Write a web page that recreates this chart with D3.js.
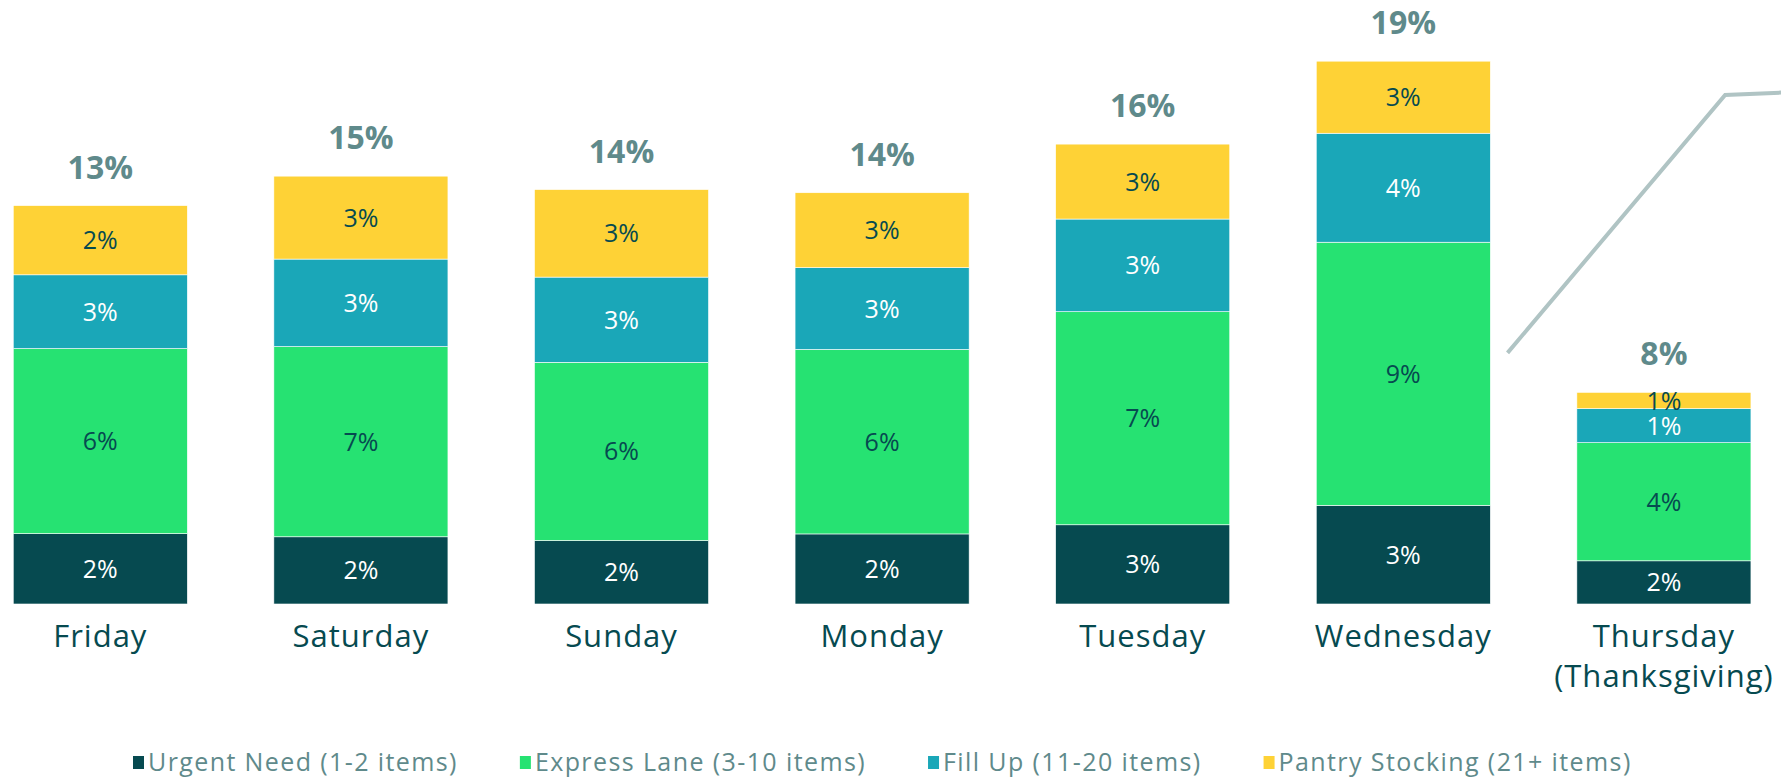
<!DOCTYPE html>
<html>
<head>
<meta charset="utf-8">
<script src="https://cdn.jsdelivr.net/npm/d3@7"></script>
<style>
  body { margin: 0; background: #fff; }
  svg { display: block; }
</style>
</head>
<body>
<div id="chart"></div>
<script>
// Data (share of trips, %)
const days = ["Friday", "Saturday", "Sunday", "Monday", "Tuesday", "Wednesday", "Thursday"];
const dayLines = [["Friday"], ["Saturday"], ["Sunday"], ["Monday"], ["Tuesday"], ["Wednesday"], ["Thursday", "(Thanksgiving)"]];
const seriesNames = ["Urgent Need (1-2 items)", "Express Lane (3-10 items)", "Fill Up (11-20 items)", "Pantry Stocking (21+ items)"];
const urgent  = [2.46, 2.35, 2.22, 2.45, 2.77, 3.45, 1.51];
const express = [6.47, 6.65, 6.23, 6.45, 7.45, 9.20, 4.13];
const fillUp  = [2.58, 3.06, 2.98, 2.86, 3.24, 3.81, 1.19];
const pantry  = [2.42, 2.90, 3.06, 2.62, 2.62, 2.52, 0.57];
const totalLabels = ["13%", "15%", "14%", "14%", "16%", "19%", "8%"];
// callout line in (category index, value) units
const callout = [[5.4, 8.78], [6.235, 17.8], [6.5, 17.9]];

const width = 1781, height = 783;
const colors = ["#064a50", "#26e272", "#1aa7b8", "#fed236"];
const labelColors = ["#ffffff", "#064a50", "#ffffff", "#064a50"];
const font = "'Open Sans', sans-serif";

const svg = d3.select("#chart").append("svg")
    .attr("width", width)
    .attr("height", height)
    .style("font-family", font);

const x = d3.scaleBand()
    .domain(days)
    .range([-30, 1794.2])
    .paddingInner(0.332)
    .paddingOuter(0.166);

const y = d3.scaleLinear()
    .domain([0, 20])
    .range([604, 32]);

const xIdx = d3.scaleLinear()
    .domain([0, 1])
    .range([x(days[0]) + x.bandwidth() / 2, x(days[1]) + x.bandwidth() / 2]);

// Build table for stacking
const table = days.map((d, i) => ({
    day: d, i,
    s0: urgent[i], s1: express[i], s2: fillUp[i], s3: pantry[i]
}));
const stack = d3.stack().keys(["s0", "s1", "s2", "s3"]);
const layers = stack(table);

const g = svg.append("g");

layers.forEach((layer, k) => {
    const lg = g.append("g");
    lg.selectAll("rect")
        .data(layer)
        .enter()
        .append("rect")
        .attr("x", d => x(d.data.day))
        .attr("y", d => y(d[1]))
        .attr("width", x.bandwidth())
        .attr("height", d => y(d[0]) - y(d[1]))
        .attr("fill", colors[k])
        .attr("stroke", "#ffffff")
        .attr("stroke-width", 0.6);

    lg.selectAll("text")
        .data(layer)
        .enter()
        .append("text")
        .attr("x", d => x(d.data.day) + x.bandwidth() / 2)
        .attr("y", d => (y(d[0]) + y(d[1])) / 2)
        .attr("dy", "0.36em")
        .attr("text-anchor", "middle")
        .style("font-size", "25px")
        .style("fill", labelColors[k])
        .text(d => Math.round(d[1] - d[0]) + "%");
});

// Totals above bars
g.selectAll(".total")
    .data(table)
    .enter()
    .append("text")
    .attr("class", "total")
    .attr("x", d => x(d.day) + x.bandwidth() / 2)
    .attr("y", d => y(d.s0 + d.s1 + d.s2 + d.s3) - 27)
    .attr("text-anchor", "middle")
    .style("font-size", "32px")
    .style("font-weight", "bold")
    .style("fill", "#5f8a8b")
    .text((d, i) => totalLabels[i]);

// Category labels
const cat = g.selectAll(".cat")
    .data(days)
    .enter()
    .append("text")
    .attr("class", "cat")
    .attr("x", d => x(d) + x.bandwidth() / 2)
    .attr("y", 647)
    .attr("text-anchor", "middle")
    .style("font-size", "31px")
    .style("letter-spacing", "1px")
    .style("fill", "#064a50");
cat.selectAll("tspan")
    .data((d, i) => dayLines[i])
    .enter()
    .append("tspan")
    .attr("x", function () { return d3.select(this.parentNode).attr("x"); })
    .attr("dy", (d, j) => j === 0 ? 0 : 40)
    .text(d => d);

// Callout line
svg.append("path")
    .datum(callout)
    .attr("d", d3.line().x(d => xIdx(d[0])).y(d => y(d[1])))
    .attr("fill", "none")
    .attr("stroke", "#b0c4c4")
    .attr("stroke-width", 4);

// Legend
const legend = svg.append("g").attr("transform", "translate(133,0)");
let lx = 0;
seriesNames.forEach((name, k) => {
    const item = legend.append("g").attr("transform", `translate(${lx},0)`);
    item.append("rect")
        .attr("x", 0).attr("y", 756)
        .attr("width", 11).attr("height", 13)
        .attr("fill", colors[k]);
    const t = item.append("text")
        .attr("x", 15).attr("y", 771)
        .style("font-size", "25px")
        .style("letter-spacing", "1.4px")
        .style("fill", "#5f8a8b")
        .text(name);
    lx += 15 + t.node().getComputedTextLength() + 62;
});
</script>
</body>
</html>
